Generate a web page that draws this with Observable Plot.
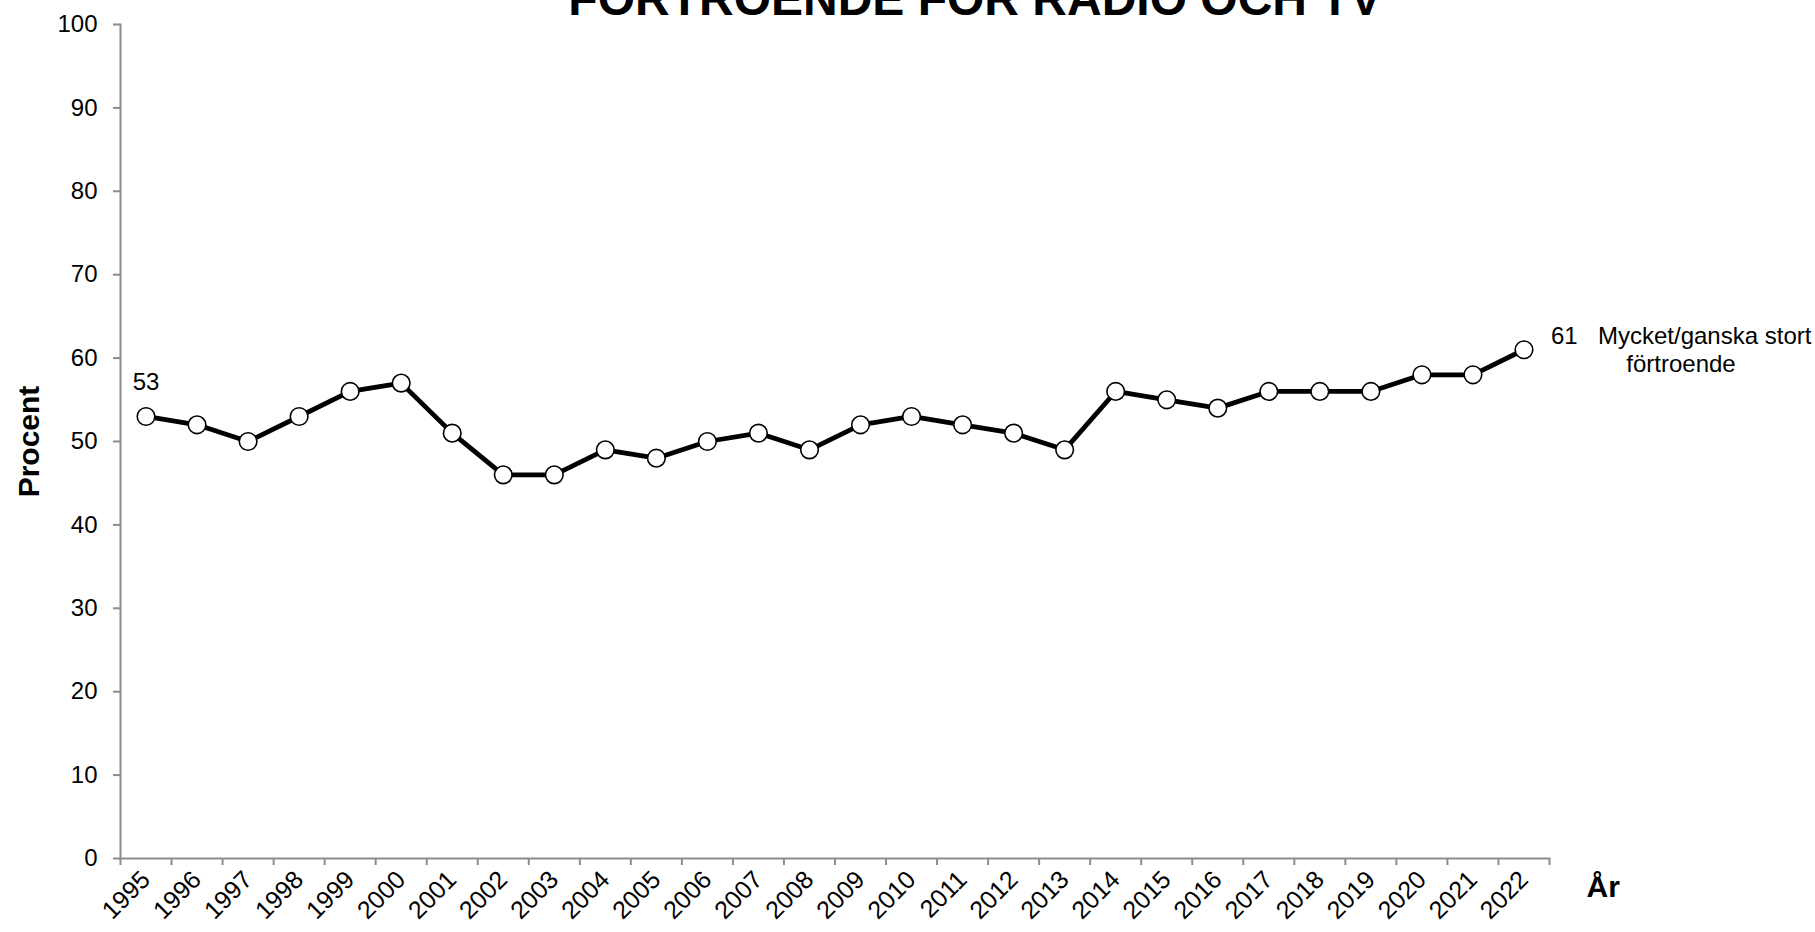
<!DOCTYPE html>
<html>
<head>
<meta charset="utf-8">
<script src="https://cdn.jsdelivr.net/npm/d3@7"></script>
<script src="https://cdn.jsdelivr.net/npm/@observablehq/plot@0.6"></script>
<style>
  html, body { margin: 0; padding: 0; background: #fff; }
  #chart { width: 1815px; height: 932px; overflow: hidden; }
</style>
</head>
<body>
<div id="chart"></div>
<script>
const years = [1995, 1996, 1997, 1998, 1999, 2000, 2001, 2002, 2003, 2004, 2005, 2006, 2007, 2008, 2009, 2010, 2011, 2012, 2013, 2014, 2015, 2016, 2017, 2018, 2019, 2020, 2021, 2022];
const values = [53, 52, 50, 53, 56, 57, 51, 46, 46, 49, 48, 50, 51, 49, 52, 53, 52, 51, 49, 56, 55, 54, 56, 56, 56, 58, 58, 61];
const yTicks = [0, 10, 20, 30, 40, 50, 60, 70, 80, 90, 100];
const title = "FÖRTROENDE FÖR RADIO OCH TV";
const yLabel = "Procent";
const xLabel = "År";
const seriesLine1 = "Mycket/ganska stort";
const seriesLine2 = "förtroende";

const data = years.map((year, i) => ({year, value: values[i]}));
const first = data[0];
const last = data[data.length - 1];
const boundaries = [years[0] - 0.5, ...years.map(y => y + 0.5)];

const gray = "#8c8c8c";
const font = "'Liberation Sans', Arial, sans-serif";

const chart = Plot.plot({
  width: 1815,
  height: 932,
  marginLeft: 120,
  marginRight: 266,
  marginTop: 24,
  marginBottom: 74,
  style: {fontFamily: font, fontSize: "24px", color: "#000", background: "#fff", overflow: "visible"},
  x: {domain: [years[0] - 0.5, years[years.length - 1] + 0.5]},
  y: {domain: [0, 100]},
  marks: [
    Plot.frame({anchor: "left", stroke: gray, strokeWidth: 2}),
    Plot.frame({anchor: "bottom", stroke: gray, strokeWidth: 2}),
    Plot.axisY({ticks: yTicks, tickSize: 7, tickPadding: 16, stroke: gray, strokeWidth: 2, label: null, fontSize: 24}),
    Plot.axisX({ticks: boundaries, tickSize: 7, tickFormat: () => "", stroke: gray, strokeWidth: 2, label: null}),
    Plot.axisX({ticks: years, tickSize: 0, tickRotate: -45, tickPadding: 17, tickFormat: d => String(d), label: null, fontSize: 25}),
    Plot.line(data, {x: "year", y: "value", stroke: "#000", strokeWidth: 4.8}),
    Plot.dot(data, {x: "year", y: "value", r: 8.8, fill: "#fff", stroke: "#000", strokeWidth: 1.6}),
    Plot.text([first], {x: "year", y: "value", text: d => String(d.value), dy: -34, fontSize: 24}),
    Plot.text([last], {x: "year", y: "value", text: d => String(d.value), textAnchor: "start", dx: 27, dy: -13, fontSize: 24}),
    Plot.text([last], {x: "year", y: "value", text: () => seriesLine1, textAnchor: "start", dx: 74, dy: -13, fontSize: 24}),
    Plot.text([last], {x: "year", y: "value", text: () => seriesLine2, textAnchor: "middle", dx: 157, dy: 15, fontSize: 24}),
    Plot.text([yLabel], {frameAnchor: "left", textAnchor: "middle", rotate: -90, dx: -91, fontWeight: "bold", fontSize: 30}),
    Plot.text([xLabel], {frameAnchor: "bottom-right", textAnchor: "start", dx: 37, dy: 38, fontWeight: "bold", fontSize: 30}),
    Plot.text([title], {frameAnchor: "top", lineAnchor: "bottom", dx: 140, dy: -10, fontWeight: "bold", fontSize: 48})
  ]
});
document.getElementById("chart").appendChild(chart);
</script>
</body>
</html>
